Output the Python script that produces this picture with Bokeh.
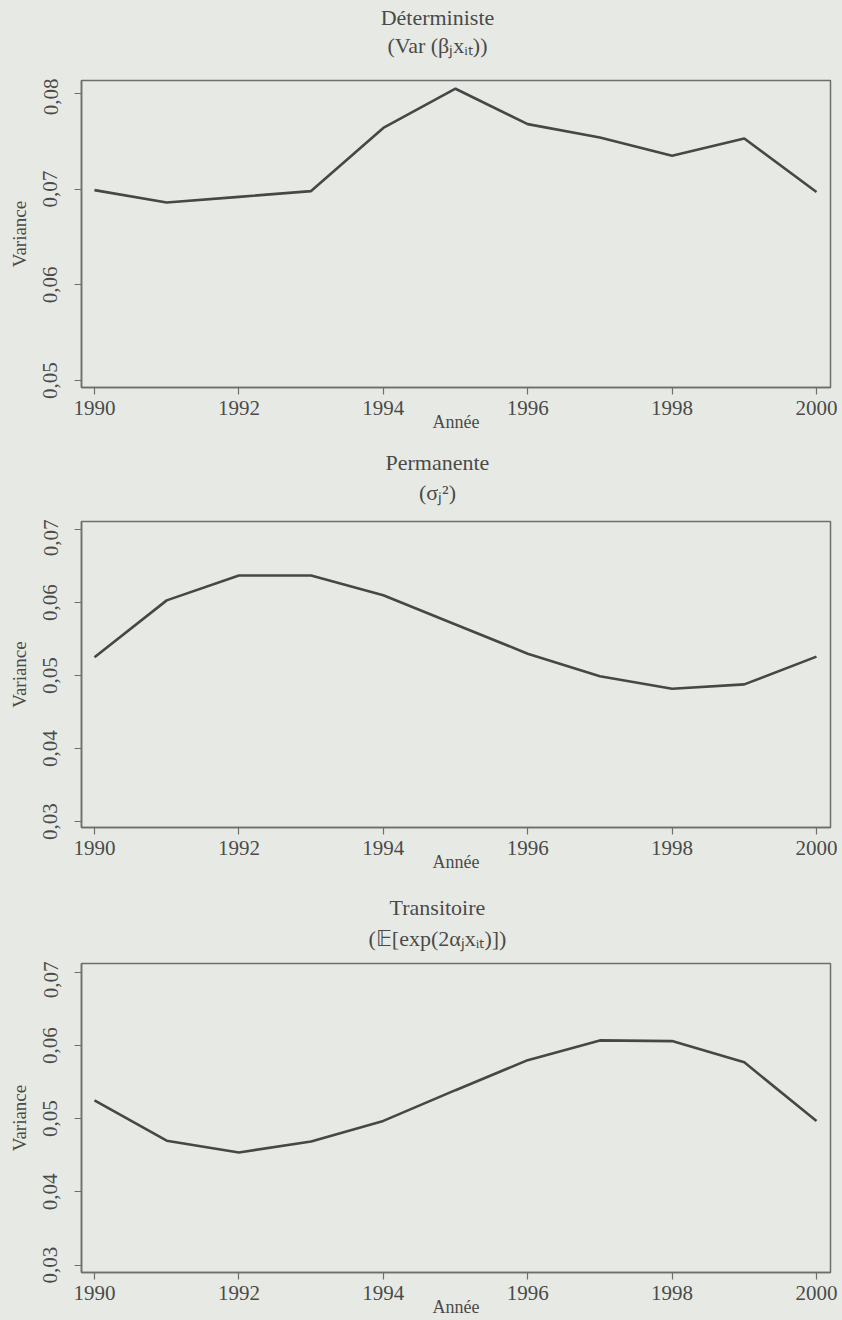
from bokeh.plotting import figure
from bokeh.models import Range1d, FixedTicker, CustomJSTickFormatter
from bokeh.layouts import column
from bokeh.embed import file_html
from bokeh.resources import INLINE
from bokeh.core.properties import value

# ---- data ----
years = [1990, 1991, 1992, 1993, 1994, 1995, 1996, 1997, 1998, 1999, 2000]
deterministe = [0.0699, 0.0686, 0.0692, 0.0698, 0.0764, 0.0805, 0.0768, 0.0754, 0.0735, 0.0753, 0.0697]
permanente = [0.0525, 0.0603, 0.0637, 0.0637, 0.0610, 0.0570, 0.0530, 0.0499, 0.0482, 0.0488, 0.0526]
transitoire = [0.0525, 0.0470, 0.0454, 0.0469, 0.0497, 0.0539, 0.0580, 0.0607, 0.0606, 0.0577, 0.0497]

x_ticks = [1990, 1992, 1994, 1996, 1998, 2000]
y_ticks_top = [0.05, 0.06, 0.07, 0.08]
y_ticks_low = [0.03, 0.04, 0.05, 0.06, 0.07]

titles = ["Déterministe", "Permanente", "Transitoire"]
subtitles = ["(Var (βⱼxᵢₜ))", "(σⱼ²)", "(𝔼[exp(2αⱼxᵢₜ)])"]
x_label = "Année"
y_label = "Variance"

BG = "#e7eae4"
INK = "#474747"
FRAME = "#6e6e6e"
TXT = "#4a4a4a"
FONT = "Liberation Serif"

W = 842
BL, BR = 81, 12
XR = (1989.82, 2000.194)
X_CENTER = 1994.75


def title_fig(title, subtitle, height, y_title, y_sub):
    t = figure(width=W, height=height, output_backend="svg", toolbar_location=None,
               x_range=Range1d(*XR), y_range=Range1d(0, height),
               min_border_left=BL, min_border_right=BR,
               min_border_top=0, min_border_bottom=0)
    t.background_fill_color = BG
    t.border_fill_color = BG
    t.outline_line_color = None
    t.axis.visible = False
    t.grid.visible = False
    t.text(x=[X_CENTER, X_CENTER], y=[y_title, y_sub], text=[title, subtitle],
           text_font=value(FONT), text_font_size="22px", text_color=TXT,
           text_align="center", text_baseline="middle")
    return t


def panel(vals, y0, y1, yticks, height, bbot):
    p = figure(width=W, height=height, output_backend="svg", toolbar_location=None,
               x_range=Range1d(*XR), y_range=Range1d(y0, y1),
               min_border_left=BL, min_border_right=BR,
               min_border_top=2, min_border_bottom=bbot)
    p.background_fill_color = BG
    p.border_fill_color = BG
    p.outline_line_color = FRAME
    p.outline_line_width = 1.5
    p.xgrid.visible = False
    p.ygrid.visible = False

    p.line(years, vals, line_color=INK, line_width=2.6)

    for ax in (p.xaxis[0], p.yaxis[0]):
        ax.axis_line_color = FRAME
        ax.axis_line_width = 1.5
        ax.major_tick_line_color = FRAME
        ax.major_tick_line_width = 1.2
        ax.major_tick_out = 7
        ax.major_tick_in = 0
        ax.minor_tick_line_color = None
        ax.major_label_text_font = FONT
        ax.major_label_text_font_size = "21px"
        ax.major_label_text_color = TXT
        ax.axis_label_text_font = FONT
        ax.axis_label_text_font_style = "normal"
        ax.axis_label_text_color = TXT

    p.xaxis.ticker = FixedTicker(ticks=x_ticks)
    p.xaxis.major_label_standoff = 6
    p.xaxis.axis_label = x_label
    p.xaxis.axis_label_text_font_size = "18px"
    p.xaxis.axis_label_standoff = -6

    p.yaxis.ticker = FixedTicker(ticks=yticks)
    p.yaxis.formatter = CustomJSTickFormatter(code="return tick.toFixed(2).replace('.', ',');")
    p.yaxis.major_label_orientation = "vertical"
    p.yaxis.major_label_standoff = 17
    p.yaxis.axis_label = y_label
    p.yaxis.axis_label_text_font_size = "19px"
    p.yaxis.axis_label_standoff = 11
    return p


t1 = title_fig(titles[0], subtitles[0], 78, 61, 33)
p1 = panel(deterministe, 0.04927, 0.08136, y_ticks_top, 362, 53)
t2 = title_fig(titles[1], subtitles[1], 79, 57, 27)
p2 = panel(permanente, 0.0292, 0.0711, y_ticks_low, 361, 53)
t3 = title_fig(titles[2], subtitles[2], 81, 54, 23)
p3 = panel(transitoire, 0.0290, 0.0712, y_ticks_low, 359, 48)

layout = column(t1, p1, t2, p2, t3, p3, spacing=0, styles={"background-color": BG})

open("out.html", "w").write(file_html(layout, INLINE))
